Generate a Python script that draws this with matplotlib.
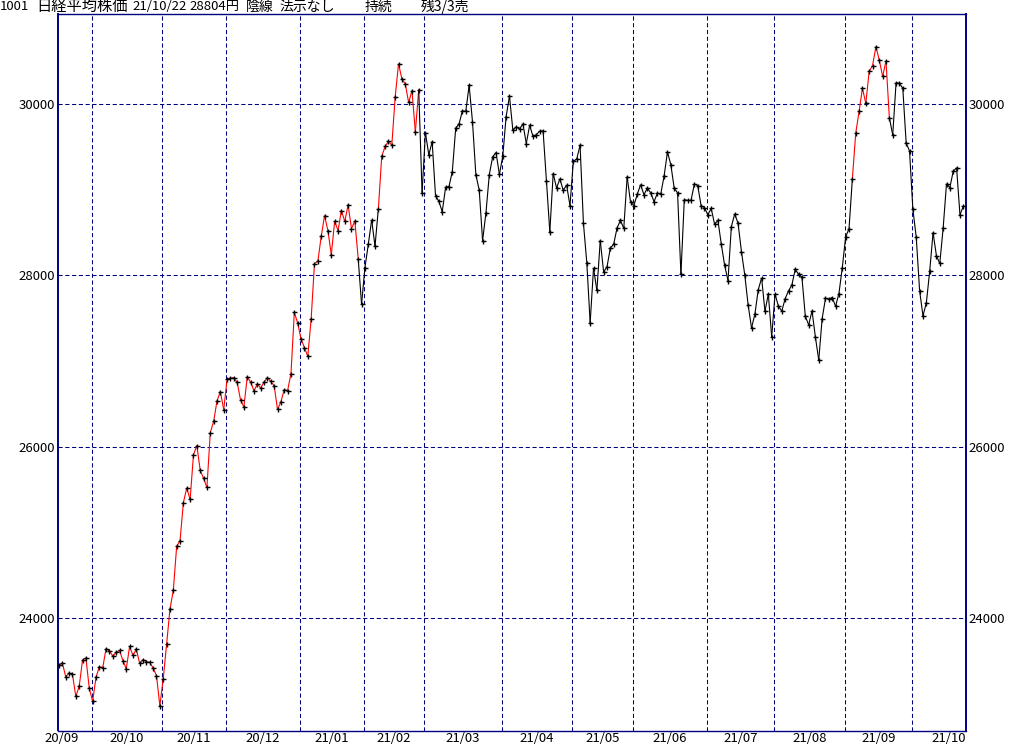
import numpy as np
import pandas as pd
import matplotlib
matplotlib.use("Agg")
import matplotlib.pyplot as plt
from matplotlib.collections import LineCollection

plt.rcParams['font.family'] = ['Noto Sans CJK JP', 'DejaVu Sans']

# daily closes of the Nikkei 225, 2020/09/15 .. 2021/10/22
dates = [
    "2020-09-15", "2020-09-16", "2020-09-17", "2020-09-18", "2020-09-23", "2020-09-24", "2020-09-25",
    "2020-09-28", "2020-09-29", "2020-09-30",
    "2020-10-02", "2020-10-05", "2020-10-06", "2020-10-07", "2020-10-08", "2020-10-09", "2020-10-12",
    "2020-10-13", "2020-10-14", "2020-10-15", "2020-10-16", "2020-10-19", "2020-10-20", "2020-10-21",
    "2020-10-22", "2020-10-23", "2020-10-26", "2020-10-27", "2020-10-28", "2020-10-29", "2020-10-30",
    "2020-11-02", "2020-11-04", "2020-11-05", "2020-11-06", "2020-11-09", "2020-11-10", "2020-11-11",
    "2020-11-12", "2020-11-13", "2020-11-16", "2020-11-17", "2020-11-18", "2020-11-19", "2020-11-20",
    "2020-11-24", "2020-11-25", "2020-11-26", "2020-11-27", "2020-11-30",
    "2020-12-01", "2020-12-02", "2020-12-03", "2020-12-04", "2020-12-07", "2020-12-08", "2020-12-09",
    "2020-12-10", "2020-12-11", "2020-12-14", "2020-12-15", "2020-12-16", "2020-12-17", "2020-12-18",
    "2020-12-21", "2020-12-22", "2020-12-23", "2020-12-24", "2020-12-25", "2020-12-28", "2020-12-29",
    "2020-12-30",
    "2021-01-04", "2021-01-05", "2021-01-06", "2021-01-07", "2021-01-08", "2021-01-12", "2021-01-13",
    "2021-01-14", "2021-01-15", "2021-01-18", "2021-01-19", "2021-01-20", "2021-01-21", "2021-01-22",
    "2021-01-25", "2021-01-26", "2021-01-27", "2021-01-28", "2021-01-29",
    "2021-02-01", "2021-02-02", "2021-02-03", "2021-02-04", "2021-02-05", "2021-02-08", "2021-02-09",
    "2021-02-10", "2021-02-12", "2021-02-15", "2021-02-16", "2021-02-17", "2021-02-18", "2021-02-19",
    "2021-02-22", "2021-02-24", "2021-02-25", "2021-02-26",
    "2021-03-01", "2021-03-02", "2021-03-03", "2021-03-04", "2021-03-05", "2021-03-08", "2021-03-09",
    "2021-03-10", "2021-03-11", "2021-03-12", "2021-03-15", "2021-03-16", "2021-03-17", "2021-03-18",
    "2021-03-19", "2021-03-22", "2021-03-23", "2021-03-24", "2021-03-25", "2021-03-26", "2021-03-29",
    "2021-03-30", "2021-03-31",
    "2021-04-01", "2021-04-02", "2021-04-05", "2021-04-06", "2021-04-07", "2021-04-08", "2021-04-09",
    "2021-04-12", "2021-04-13", "2021-04-14", "2021-04-15", "2021-04-16", "2021-04-19", "2021-04-20",
    "2021-04-21", "2021-04-22", "2021-04-23", "2021-04-26", "2021-04-27", "2021-04-28", "2021-04-30",
    "2021-05-06", "2021-05-07", "2021-05-10", "2021-05-11", "2021-05-12", "2021-05-13", "2021-05-14",
    "2021-05-17", "2021-05-18", "2021-05-19", "2021-05-20", "2021-05-21", "2021-05-24", "2021-05-25",
    "2021-05-26", "2021-05-27", "2021-05-28", "2021-05-31",
    "2021-06-01", "2021-06-02", "2021-06-03", "2021-06-04", "2021-06-07", "2021-06-08", "2021-06-09",
    "2021-06-10", "2021-06-11", "2021-06-14", "2021-06-15", "2021-06-16", "2021-06-17", "2021-06-18",
    "2021-06-21", "2021-06-22", "2021-06-23", "2021-06-24", "2021-06-25", "2021-06-28", "2021-06-29",
    "2021-06-30",
    "2021-07-01", "2021-07-02", "2021-07-05", "2021-07-06", "2021-07-07", "2021-07-08", "2021-07-09",
    "2021-07-12", "2021-07-13", "2021-07-14", "2021-07-15", "2021-07-16", "2021-07-19", "2021-07-20",
    "2021-07-21", "2021-07-26", "2021-07-27", "2021-07-28", "2021-07-29", "2021-07-30",
    "2021-08-02", "2021-08-03", "2021-08-04", "2021-08-05", "2021-08-06", "2021-08-10", "2021-08-11",
    "2021-08-12", "2021-08-13", "2021-08-16", "2021-08-17", "2021-08-18", "2021-08-19", "2021-08-20",
    "2021-08-23", "2021-08-24", "2021-08-25", "2021-08-26", "2021-08-27", "2021-08-30", "2021-08-31",
    "2021-09-01", "2021-09-02", "2021-09-03", "2021-09-06", "2021-09-07", "2021-09-08", "2021-09-09",
    "2021-09-10", "2021-09-13", "2021-09-14", "2021-09-15", "2021-09-16", "2021-09-17", "2021-09-21",
    "2021-09-22", "2021-09-24", "2021-09-27", "2021-09-28", "2021-09-29", "2021-09-30",
    "2021-10-01", "2021-10-04", "2021-10-05", "2021-10-06", "2021-10-07", "2021-10-08", "2021-10-11",
    "2021-10-12", "2021-10-13", "2021-10-14", "2021-10-15", "2021-10-18", "2021-10-19", "2021-10-20",
    "2021-10-21", "2021-10-22",
]

closes = [
    23455, 23476, 23319, 23360, 23346, 23088, 23205, 23512, 23539, 23185,
    23030, 23312, 23434, 23423, 23647, 23620, 23559, 23602, 23627, 23507, 23411,
    23671, 23567, 23639, 23474, 23517, 23494, 23486, 23419, 23332, 22977,
    23295, 23695, 24105, 24325, 24840, 24906, 25350, 25521, 25386, 25907,
    26015, 25728, 25634, 25527, 26166, 26297, 26537, 26645, 26434,
    26788, 26801, 26809, 26751, 26547, 26467, 26818, 26756, 26653, 26732, 26688,
    26757, 26807, 26763, 26714, 26436, 26525, 26668, 26657, 26854, 27568, 27444,
    27258, 27159, 27056, 27490, 28139, 28164, 28457, 28698, 28519, 28242,
    28633, 28523, 28757, 28631, 28822, 28546, 28635, 28197, 27663,
    28091, 28362, 28647, 28342, 28779, 29389, 29506, 29563, 29520,
    30084, 30468, 30292, 30236, 30018, 30156, 29672, 30168, 28966,
    29664, 29408, 29559, 28930, 28864, 28743, 29028, 29037, 29212, 29718, 29767, 29921,
    29914, 30217, 29792, 29174, 28996, 28406, 28730, 29177, 29385, 29433, 29179,
    29389, 29854, 30089, 29697, 29731, 29709, 29768, 29539, 29752, 29621, 29643,
    29683, 29685, 29100, 28509, 29188, 29021, 29126, 28992, 29054, 28813,
    29331, 29358, 29518, 28609, 28148, 27448, 28084, 27825, 28407,
    28044, 28098, 28318, 28365, 28554, 28642, 28549, 29149, 28860,
    28814, 28946, 29058, 28942, 29019, 28964, 28861, 28959, 28949, 29162, 29441,
    29291, 29018, 28964, 28011, 28884, 28875, 28875, 29066, 29048, 28813, 28792,
    28707, 28783, 28598, 28643, 28367, 28118, 27940, 28569, 28718, 28608,
    28279, 28003, 27653, 27388, 27548, 27833, 27970, 27582, 27782, 27284,
    27781, 27642, 27584, 27728, 27820, 27888, 28071, 28015, 27977, 27523, 27424,
    27586, 27281, 27013, 27494, 27732, 27725, 27742, 27641, 27789, 28090,
    28451, 28544, 29128, 29660, 29916, 30181, 30008, 30382, 30447, 30670,
    30512, 30323, 30500, 29840, 29639, 30249, 30240, 30184, 29544, 29453,
    28771, 28445, 27822, 27529, 27678, 28049, 28498, 28231,
    28140, 28551, 29069, 29025, 29216, 29256, 28709, 28805,
]

# periods where the line is drawn red (position held)
red_spans = [("2020-09-15", "2021-01-28"), ("2021-02-05", "2021-02-25"), ("2021-09-03", "2021-09-21")]

y_ticks = [24000, 26000, 28000, 30000]
title_parts = ["1001", "日経平均株価", "21/10/22", "28804円", "陰線", "法示なし", "持続", "残3/3売"]

NAVY = "#000080"

dt = pd.to_datetime(dates)
x = np.arange(len(closes))
y = np.array(closes, dtype=float)

fig = plt.figure(figsize=(10.24, 7.45), dpi=100)
ax = fig.add_axes([58 / 1024, 14.5 / 745, 908 / 1024, 716.5 / 745])
ax.set_xlim(-0.3, len(x) - 0.2)
ax.set_ylim(22691, 31050)

# month boundaries
months = dt.to_period("M")
starts = [i for i in range(1, len(dt)) if months[i] != months[i - 1]]
grid_x = [s - 0.3 for s in starts]
for gx in grid_x:
    ax.axvline(gx, color=NAVY, lw=0.75, linestyle=(0, (4, 2.5)), zorder=1)
for yt in y_ticks:
    ax.axhline(yt, color=NAVY, lw=0.75, linestyle=(0, (4, 2.5)), zorder=1)

# month labels centred in each month
bounds = [grid_x[0] - 17.6] + grid_x + [grid_x[-1] + 21.8]
label_x = [(bounds[i] + bounds[i + 1]) / 2 for i in range(len(bounds) - 1)]
label_txt = [months[0].strftime("%y/%m")] + [months[s].strftime("%y/%m") for s in starts]
ax.set_xticks(label_x, labels=label_txt)
ax.tick_params(axis='x', length=0, pad=1.0, labelsize=9.5)

ax.set_yticks(y_ticks, labels=[str(v) for v in y_ticks])
ax.tick_params(axis='y', length=0, pad=2, labelsize=9.5, labelleft=True, labelright=True)

# price line, coloured per segment
is_red = np.zeros(len(x) - 1, dtype=bool)
for a, b in red_spans:
    m = (dt >= pd.Timestamp(a)) & (dt <= pd.Timestamp(b))
    is_red |= m[:-1] & m[1:]
pts = np.column_stack([x, y])
segs = np.stack([pts[:-1], pts[1:]], axis=1)
lc = LineCollection(segs, colors=np.where(is_red, "#ff0000", "#000000"), linewidths=0.8, zorder=2)
ax.add_collection(lc)
ax.plot(x, y, ls='none', marker='+', ms=3.6, mew=1.0, color='black', zorder=3)

for side in ["left", "right"]:
    ax.spines[side].set_color(NAVY)
    ax.spines[side].set_linewidth(1.4)
for side in ["top", "bottom"]:
    ax.spines[side].set_color(NAVY)
    ax.spines[side].set_linewidth(1.0)

title_px = [0, 36, 132, 189, 246, 279, 365, 421]
title_size = [9.5, 11, 9.5, 9.5, 10, 10, 10, 10]
for t, px, fs in zip(title_parts, title_px, title_size):
    fig.text(px / 1024, 1 - 6.5 / 745, t, ha='left', va='center', fontsize=fs, color='black')

fig.savefig("out.png", dpi=100)
